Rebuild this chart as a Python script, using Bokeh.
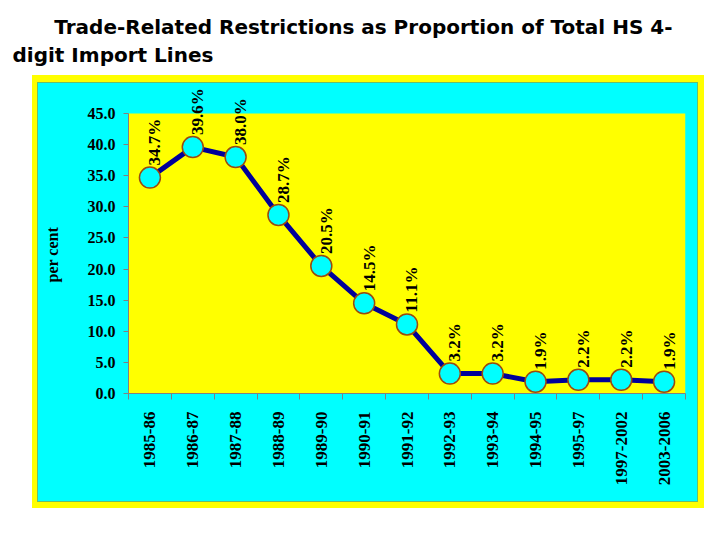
import math
from bokeh.plotting import figure
from bokeh.models import (BoxAnnotation, LabelSet, FixedTicker, Range1d, Title,
                          ColumnDataSource, NumeralTickFormatter)
from bokeh.core.properties import value
from bokeh.embed import file_html
from bokeh.resources import INLINE

# ---- data ----
periods = ["1985-86", "1986-87", "1987-88", "1988-89", "1989-90", "1990-91",
           "1991-92", "1992-93", "1993-94", "1994-95", "1995-97", "1997-2002",
           "2003-2006"]
shares = [34.7, 39.6, 38.0, 28.7, 20.5, 14.5, 11.1, 3.2, 3.2, 1.9, 2.2, 2.2, 1.9]
y_ticks = [0, 5, 10, 15, 20, 25, 30, 35, 40, 45]
y_axis_max = 45
title_line1 = "Trade-Related Restrictions as Proportion of Total HS 4-"
title_line2 = "digit Import Lines"
y_label = "per cent"

n = len(periods)
xs = [i + 0.5 for i in range(n)]
labels = [f"{v:.1f}%" for v in shares]
src = ColumnDataSource(dict(x=xs, y=shares, label=labels))

YELLOW = "#FFFF00"
CYAN = "#00FFFF"
SERIF = "Liberation Serif"
SANS = "DejaVu Sans"

# layout (canvas pixels)
W, H = 712, 532
frame_left, frame_right = 128, 685
frame_top, frame_bottom = 78, 393      # invisible frame extends above 45.0
axis_top = 113                          # pixel row of the 45.0 value
y_end = y_axis_max * (frame_bottom - frame_top) / (frame_bottom - axis_top)

bg = ", ".join([
    f"linear-gradient({CYAN},{CYAN}) 38px 83px / 659px 418px no-repeat",
    "linear-gradient(#6abf6a,#6abf6a) 37px 82px / 661px 420px no-repeat",
    f"linear-gradient({YELLOW},{YELLOW}) 32px 75px / 672px 433px no-repeat",
    "white",
])

p = figure(width=W, height=H, output_backend="svg", toolbar_location=None,
           x_range=Range1d(0, n), y_range=Range1d(0, y_end),
           min_border_left=frame_left, min_border_right=W - frame_right,
           min_border_top=frame_top, min_border_bottom=H - frame_bottom,
           background_fill_color=None, border_fill_color=None,
           outline_line_color=None, styles={"background": bg})

# yellow plot area (0..45)
p.add_layout(BoxAnnotation(bottom=0, top=y_axis_max, fill_color=YELLOW,
                           fill_alpha=1, line_color=None, level="underlay"))

p.grid.visible = False

p.line("x", "y", source=src, line_color="#000099", line_width=5)
p.scatter("x", "y", source=src, size=21, fill_color=CYAN,
          line_color="#9a4a10", line_width=1.5)

p.add_layout(LabelSet(x="x", y="y", text="label", source=src,
                      angle=math.pi / 2, x_offset=5, y_offset=12,
                      text_align="left", text_baseline="middle",
                      text_font=value(SERIF), text_font_style="bold",
                      text_font_size="17px", text_color="black"))

# axes
xa = p.xaxis[0]
xa.ticker = FixedTicker(ticks=xs, minor_ticks=list(range(n + 1)))
xa.major_label_overrides = {x: lab for x, lab in zip(xs, periods)}
xa.major_label_orientation = math.pi / 2
xa.major_tick_out = 0
xa.major_tick_in = 0
xa.minor_tick_out = 6
xa.minor_tick_in = 0
xa.minor_tick_line_color = "#808080"
xa.axis_line_color = "#808080"
xa.major_label_standoff = 12
xa.major_label_text_font = SERIF
xa.major_label_text_font_style = "bold"
xa.major_label_text_font_size = "17px"
xa.major_label_text_color = "black"

ya = p.yaxis[0]
ya.ticker = FixedTicker(ticks=y_ticks, minor_ticks=[])
ya.formatter = NumeralTickFormatter(format="0.0")
ya.bounds = (0, y_axis_max)
ya.major_tick_out = 5
ya.major_tick_in = 0
ya.major_tick_line_color = "#808080"
ya.axis_line_color = "#808080"
ya.major_label_standoff = 8
ya.major_label_text_font = SERIF
ya.major_label_text_font_style = "bold"
ya.major_label_text_font_size = "16px"
ya.major_label_text_color = "black"

# y-axis caption, centred on the 0..45 span
p.add_layout(Title(text=y_label, align="left", offset=111,
                   text_font=SERIF, text_font_style="bold",
                   text_font_size="16px", text_color="black", standoff=48),
             "left")

# two-line title, first line indented
title_text = "\u00a0" * 6 + title_line1 + "\n" + title_line2
p.add_layout(Title(text=title_text, align="left", offset=12 - frame_left,
                   text_font=SANS, text_font_style="bold",
                   text_font_size="20px", text_color="black",
                   text_line_height=1.2, standoff=22),
             "above")

open("out.html", "w").write(file_html(p, INLINE))
